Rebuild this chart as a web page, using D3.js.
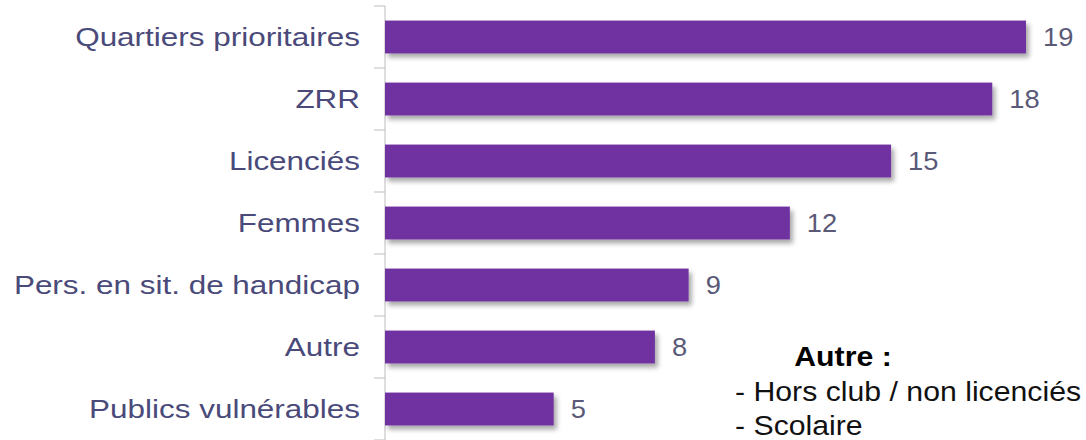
<!DOCTYPE html>
<html>
<head>
<meta charset="utf-8">
<script src="https://cdn.jsdelivr.net/npm/d3@7"></script>
<style>
  body { margin: 0; background: #fff; }
  text { font-family: "Liberation Sans", Arial, sans-serif; }
</style>
</head>
<body>
<div id="chart"></div>
<script>
// data
const categories = ['Quartiers prioritaires', 'ZRR', 'Licenciés', 'Femmes',
  'Pers. en sit. de handicap', 'Autre', 'Publics vulnérables'];
const values = [19, 18, 15, 12, 9, 8, 5];
const noteTitle = 'Autre :';
const noteLines = ['- Hors club / non licenciés', '- Scolaire'];

const width = 1086, height = 440;
const x0 = 385;

const svg = d3.select('#chart').append('svg')
  .attr('width', width)
  .attr('height', height);

// soft drop shadow like the original
const defs = svg.append('defs');
const f = defs.append('filter').attr('id', 'shadow')
  .attr('x', '-5%').attr('y', '-30%').attr('width', '115%').attr('height', '190%');
f.append('feGaussianBlur').attr('in', 'SourceAlpha').attr('stdDeviation', 2.5);
f.append('feOffset').attr('dx', 3).attr('dy', 4).attr('result', 'b');
f.append('feComponentTransfer').append('feFuncA').attr('type', 'linear').attr('slope', 0.35);
const m = f.append('feMerge');
m.append('feMergeNode');
m.append('feMergeNode').attr('in', 'SourceGraphic');

const x = d3.scaleLinear()
  .domain([0, 19])
  .range([x0, 1026]);

const y = d3.scaleBand()
  .domain(categories)
  .range([6, 440])
  .paddingInner(0.47)
  .paddingOuter(0.235);

// the original text is drawn a bit wider than normal
function place(px, py, s) {
  return 'translate(' + px + ',' + py + ') scale(' + s + ',1)';
}

// axis with ticks between categories
const yAxis = svg.append('g');
yAxis.append('line')
  .attr('x1', x0).attr('x2', x0)
  .attr('y1', 6).attr('y2', 440)
  .style('stroke', '#bdbdbd')
  .style('stroke-width', 1);
const step = y.step();
yAxis.selectAll('.tk')
  .data(d3.range(categories.length + 1))
  .enter().append('line')
  .attr('x1', x0 - 11).attr('x2', x0)
  .attr('y1', i => 6 + i * step).attr('y2', i => 6 + i * step)
  .style('stroke', '#bdbdbd')
  .style('stroke-width', 1);

yAxis.selectAll('.lbl')
  .data(categories)
  .enter().append('text')
  .attr('transform', d => place(360, y(d) + y.bandwidth() / 2, 1.21))
  .attr('dy', '0.36em')
  .attr('text-anchor', 'end')
  .style('font-size', '26px')
  .style('fill', '#4a4a7a')
  .text(d => d);

const g = svg.append('g').attr('filter', 'url(#shadow)');
g.selectAll('rect')
  .data(values)
  .enter().append('rect')
  .attr('x', x0)
  .attr('y', (d, i) => y(categories[i]))
  .attr('width', d => x(d) - x0)
  .attr('height', y.bandwidth())
  .style('fill', '#7030a0');

svg.selectAll('.val')
  .data(values)
  .enter().append('text')
  .attr('transform', (d, i) => place(x(d) + 17, y(categories[i]) + y.bandwidth() / 2, 1.05))
  .attr('dy', '0.36em')
  .style('font-size', '26px')
  .style('fill', '#5a5a78')
  .text(d => d);

// note on the right
svg.append('text')
  .attr('transform', place(843, 366, 1.12))
  .attr('text-anchor', 'middle')
  .style('font-size', '27px')
  .style('font-weight', 'bold')
  .style('fill', '#000')
  .text(noteTitle);

svg.selectAll('.note')
  .data(noteLines)
  .enter().append('text')
  .attr('transform', (d, i) => place(735, 401 + i * 34, 1.12))
  .style('font-size', '27px')
  .style('fill', '#111')
  .text(d => d);
</script>
</body>
</html>
